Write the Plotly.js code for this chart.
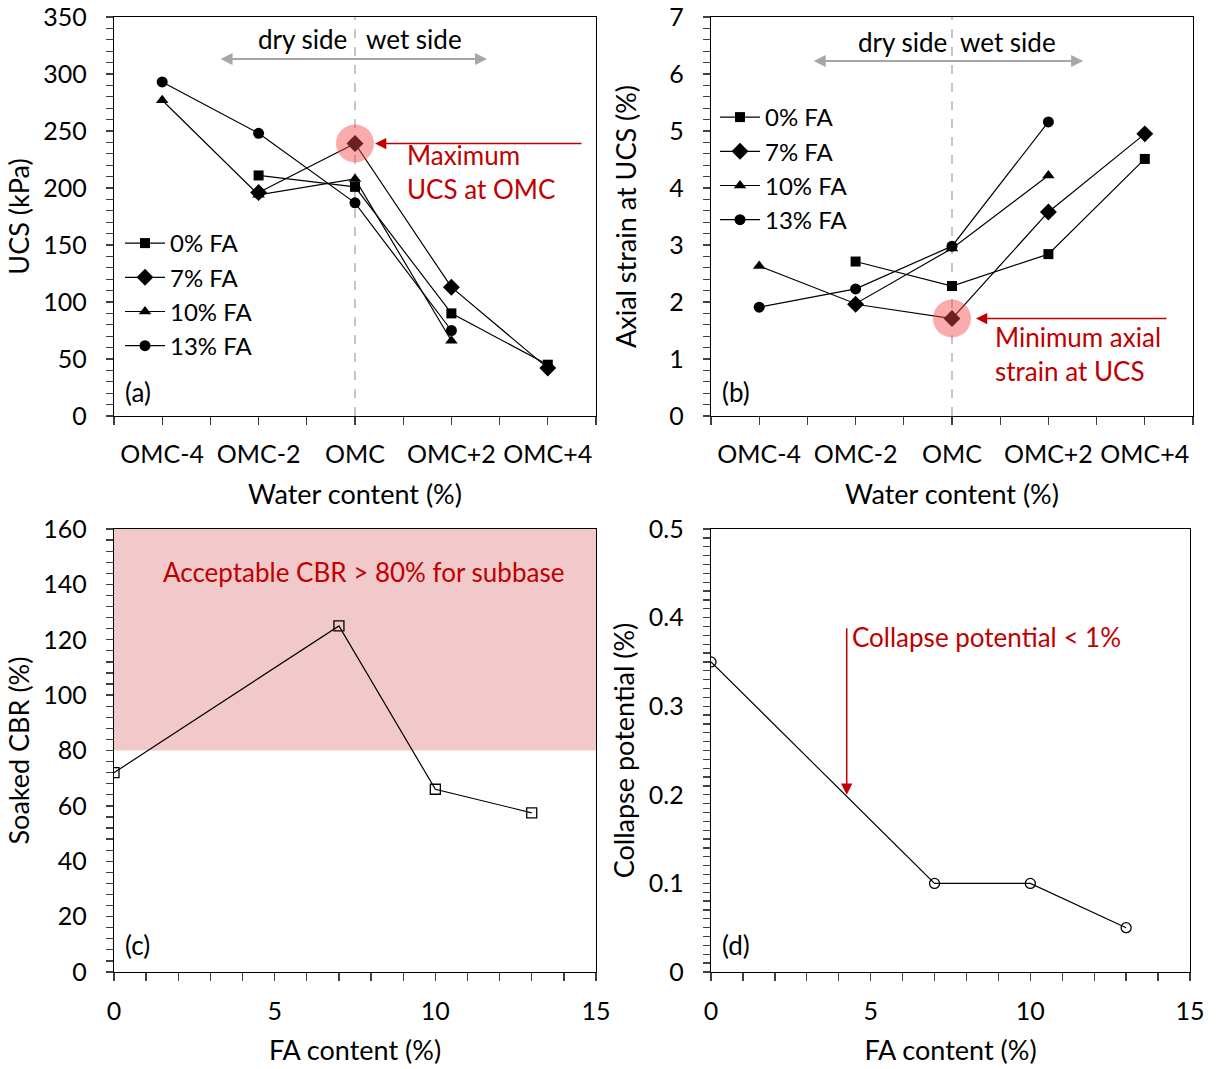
<!DOCTYPE html>
<html>
<head>
<meta charset="utf-8">
<script src="https://cdn.plot.ly/plotly-3.0.1.min.js"></script>
<style>html,body{margin:0;padding:0;background:#fff;}#chart{width:1216px;height:1069px;}</style>
</head>
<body>
<div id="chart"></div>
<script>
// ---- data ----
const categories = ['OMC-4', 'OMC-2', 'OMC', 'OMC+2', 'OMC+4'];
const seriesNames = ['0% FA', '7% FA', '10% FA', '13% FA'];
const ucs0  = [null, 211, 201, 90, 45];
const ucs7  = [null, 196, 239, 113, 42];
const ucs10 = [277, 194, 208, 66, null];
const ucs13 = [293, 248, 187, 75, null];
const strain0  = [null, 2.71, 2.28, 2.84, 4.51];
const strain7  = [null, 1.96, 1.71, 3.58, 4.95];
const strain10 = [2.63, 1.97, 2.94, 4.22, null];
const strain13 = [1.91, 2.23, 2.98, 5.16, null];
const faContent = [0, 7, 10, 13];
const soakedCBR = [72, 125, 66, 57.5];
const collapsePotential = [0.35, 0.1, 0.1, 0.05];

// ---- helpers ----
const FONT = 'Lato, "Open Sans", sans-serif';
const RED = '#c00000';
const W = 1216, H = 1069;
const xIdx = categories.map((c, i) => i);
const omc = categories.indexOf('OMC');
const symbols = ['square', 'diamond', 'triangle-up', 'circle'];
const msizes = [10, 13, 11, 11];
const ucsSeries = [ucs0, ucs7, ucs10, ucs13];
const strainSeries = [strain0, strain7, strain10, strain13];

const traces = [];
ucsSeries.forEach((s, k) => traces.push({
  x: xIdx, y: s, name: seriesNames[k], type: 'scatter', mode: 'lines+markers',
  xaxis: 'x', yaxis: 'y', legend: 'legend',
  line: {color: '#000', width: 1.2}, marker: {symbol: symbols[k], size: msizes[k], color: '#000'},
  hoverinfo: 'skip'
}));
strainSeries.forEach((s, k) => traces.push({
  x: xIdx, y: s, name: seriesNames[k], type: 'scatter', mode: 'lines+markers',
  xaxis: 'x2', yaxis: 'y2', legend: 'legend2',
  line: {color: '#000', width: 1.2}, marker: {symbol: symbols[k], size: msizes[k], color: '#000'},
  hoverinfo: 'skip'
}));
traces.push({
  x: faContent, y: soakedCBR, type: 'scatter', mode: 'lines+markers', showlegend: false,
  xaxis: 'x3', yaxis: 'y3', line: {color: '#000', width: 1.2},
  marker: {symbol: 'square-open', size: 10, color: '#000', line: {width: 1.3}}
});
traces.push({
  x: faContent, y: collapsePotential, type: 'scatter', mode: 'lines+markers', showlegend: false,
  xaxis: 'x4', yaxis: 'y4', line: {color: '#000', width: 1.2},
  marker: {symbol: 'circle-open', size: 10, color: '#000', line: {width: 1.3}}
});

// category axis with ticks at categories and boundaries
const catTickVals = [], catTickText = [];
for (let i = -0.5; i <= categories.length - 0.5 + 1e-9; i += 0.5) {
  catTickVals.push(i);
  catTickText.push(Number.isInteger(i) ? categories[i] : '');
}
// numeric axis ticks: every minor step, labels at major steps
function numTicks(max, major, minor) {
  const n = Math.round(max / minor), every = Math.round(major / minor);
  const vals = [], text = [];
  for (let i = 0; i <= n; i++) {
    const v = +(i * minor).toFixed(6);
    vals.push(v);
    text.push(i % every === 0 ? String(v) : '');
  }
  return {vals, text};
}

const dx = (a, b) => [a / W, b / W];
const dy = (top, bottom) => [1 - bottom / H, 1 - top / H];

const TICKFONT = {family: FONT, size: 25, color: '#000'};
const TITLEFONT = {family: FONT, size: 27, color: '#000'};
const axBase = {
  showline: true, mirror: true, linecolor: '#000', linewidth: 1.3,
  ticks: 'outside', ticklen: 8, tickwidth: 1.3, tickcolor: '#404040',
  showgrid: false, zeroline: false, tickfont: TICKFONT, fixedrange: true
};
const xCat = (dom, anchor) => Object.assign({}, axBase, {
  domain: dom, anchor: anchor, range: [-0.5, categories.length - 0.5],
  tickmode: 'array', tickvals: catTickVals, ticktext: catTickText,
  ticklabelstandoff: 8,
  title: {text: 'Water content (%)', font: TITLEFONT, standoff: 17}
});
const xFA = (dom, anchor) => {
  const t = numTicks(15, 5, 1);
  return Object.assign({}, axBase, {
    domain: dom, anchor: anchor, range: [0, 15], tickmode: 'array', tickvals: t.vals, ticktext: t.text,
    ticklabelstandoff: 9,
    title: {text: 'FA content (%)', font: TITLEFONT, standoff: 16}
  });
};
const yAx = (dom, anchor, max, major, minor, title, standoff) => {
  const t = numTicks(max, major, minor);
  return Object.assign({}, axBase, {
    domain: dom, anchor: anchor, range: [0, max], tickmode: 'array', tickvals: t.vals, ticktext: t.text,
    ticklen: 7, ticklabelstandoff: 14,
    title: {text: title, font: TITLEFONT, standoff: standoff}
  });
};

const xa = dx(114, 596), xb = dx(711, 1193), xd = dx(711, 1190);
const yTop = dy(17, 416), yBot = dy(529, 972);

const redFont = {family: FONT, size: 26, color: RED};
const blkFont = {family: FONT, size: 26, color: '#000'};

const panelLabel = (t, xr, yr) => ({
  text: t, xref: xr + ' domain', yref: yr + ' domain', x: 0.018, y: 0.06,
  xanchor: 'left', yanchor: 'middle', showarrow: false, font: blkFont
});

const annotations = [
  panelLabel('(a)', 'x', 'y'), panelLabel('(b)', 'x2', 'y2'),
  panelLabel('(c)', 'x3', 'y3'), panelLabel('(d)', 'x4', 'y4'),
  // dry / wet side (a)
  {text: 'dry side', xref: 'x', yref: 'y domain', x: omc, y: 0.945, xanchor: 'right', yanchor: 'middle', xshift: -6, showarrow: false, font: blkFont},
  {text: 'wet side', xref: 'x', yref: 'y domain', x: omc, y: 0.945, xanchor: 'left', yanchor: 'middle', xshift: 9, showarrow: false, font: blkFont},
  {text: '', xref: 'x', yref: 'y domain', x: 3.37, y: 0.895, axref: 'x', ayref: 'y domain', ax: 0.59, ay: 0.895,
   showarrow: true, arrowside: 'end+start', arrowhead: 2, arrowsize: 1.2, arrowwidth: 2, arrowcolor: '#a6a6a6'},
  // dry / wet side (b)
  {text: 'dry side', xref: 'x2', yref: 'y2 domain', x: omc, y: 0.938, xanchor: 'right', yanchor: 'middle', xshift: -3, showarrow: false, font: blkFont},
  {text: 'wet side', xref: 'x2', yref: 'y2 domain', x: omc, y: 0.938, xanchor: 'left', yanchor: 'middle', xshift: 6, showarrow: false, font: blkFont},
  {text: '', xref: 'x2', yref: 'y2 domain', x: 3.36, y: 0.89, axref: 'x2', ayref: 'y2 domain', ax: 0.55, ay: 0.89,
   showarrow: true, arrowside: 'end+start', arrowhead: 2, arrowsize: 1.2, arrowwidth: 2, arrowcolor: '#a6a6a6'},
  // max UCS
  {text: '', xref: 'x', yref: 'y', x: omc, y: ucs7[omc], ax: 228, ay: 0, standoff: 20,
   showarrow: true, arrowhead: 2, arrowsize: 1.5, arrowwidth: 1.5, arrowcolor: RED},
  {text: 'Maximum<br>UCS at OMC', xref: 'x', yref: 'y', x: omc, y: ucs7[omc], xshift: 50, yshift: -28,
   xanchor: 'left', yanchor: 'middle', align: 'left', showarrow: false, font: redFont},
  // min strain
  {text: '', xref: 'x2', yref: 'y2', x: omc, y: strain7[omc], ax: 216, ay: 0, standoff: 24,
   showarrow: true, arrowhead: 2, arrowsize: 1.5, arrowwidth: 1.5, arrowcolor: RED},
  {text: 'Minimum axial<br>strain at UCS', xref: 'x2', yref: 'y2', x: omc, y: strain7[omc], xshift: 41, yshift: -35,
   xanchor: 'left', yanchor: 'middle', align: 'left', showarrow: false, font: redFont},
  // CBR
  {text: 'Acceptable CBR &gt; 80% for subbase', xref: 'x3', yref: 'y3', x: 7.75, y: 144.5,
   xanchor: 'center', yanchor: 'middle', showarrow: false, font: redFont},
  // collapse
  {text: 'Collapse potential &lt; 1%', xref: 'x4', yref: 'y4', x: 4.35, y: 0.378,
   xanchor: 'left', yanchor: 'middle', showarrow: false, font: redFont},
  {text: '', xref: 'x4', yref: 'y4', x: 4.25, y: 0.2, ax: 0, ay: -168,
   showarrow: true, arrowhead: 2, arrowsize: 1.5, arrowwidth: 1.5, arrowcolor: RED}
];

const shapes = [
  {type: 'line', xref: 'x', yref: 'y domain', x0: omc, x1: omc, y0: 0, y1: 1, line: {color: '#a6a6a6', width: 1.3, dash: 'dash'}, layer: 'below'},
  {type: 'line', xref: 'x2', yref: 'y2 domain', x0: omc, x1: omc, y0: 0, y1: 1, line: {color: '#a6a6a6', width: 1.3, dash: 'dash'}, layer: 'below'},
  {type: 'circle', xref: 'x', yref: 'y', xsizemode: 'pixel', ysizemode: 'pixel', xanchor: omc, yanchor: ucs7[omc],
   x0: -19, x1: 19, y0: -19, y1: 19, fillcolor: 'rgba(245,70,70,0.45)', line: {width: 0}, layer: 'above'},
  {type: 'circle', xref: 'x2', yref: 'y2', xsizemode: 'pixel', ysizemode: 'pixel', xanchor: omc, yanchor: strain7[omc],
   x0: -19, x1: 19, y0: -19, y1: 19, fillcolor: 'rgba(245,70,70,0.45)', line: {width: 0}, layer: 'above'},
  {type: 'rect', xref: 'x3 domain', yref: 'y3', x0: 0, x1: 1, y0: 80, y1: 160, fillcolor: '#f1c9ca', line: {width: 0}, layer: 'below'}
];

const legendBase = {
  bgcolor: 'rgba(0,0,0,0)', borderwidth: 0, font: {family: FONT, size: 24, color: '#000'},
  xanchor: 'left', yanchor: 'top', itemclick: false, itemdoubleclick: false, tracegroupgap: 0,
  itemwidth: 40
};

const layout = {
  width: W, height: H, margin: {l: 0, r: 0, t: 0, b: 0},
  paper_bgcolor: '#fff', plot_bgcolor: '#fff',
  font: {family: FONT, size: 24, color: '#000'},
  showlegend: true,
  legend: Object.assign({}, legendBase, {x: 120 / W, y: 1 - 221 / H}),
  legend2: Object.assign({}, legendBase, {x: 715 / W, y: 1 - 95 / H}),
  xaxis: xCat(xa, 'y'),
  yaxis: yAx(yTop, 'x', 350, 50, 10, 'UCS (kPa)', 5),
  xaxis2: xCat(xb, 'y2'),
  yaxis2: yAx(yTop, 'x2', 7, 1, 0.2, 'Axial strain at UCS (%)', 24),
  xaxis3: xFA(xa, 'y3'),
  yaxis3: yAx(yBot, 'x3', 160, 20, 4, 'Soaked CBR (%)', 5),
  xaxis4: xFA(xd, 'y4'),
  yaxis4: yAx(yBot, 'x4', 0.5, 0.1, 0.01, 'Collapse potential (%)', 6),
  shapes: shapes,
  annotations: annotations
};

Plotly.newPlot('chart', traces, layout, {staticPlot: true, displayModeBar: false});
</script>
</body>
</html>
